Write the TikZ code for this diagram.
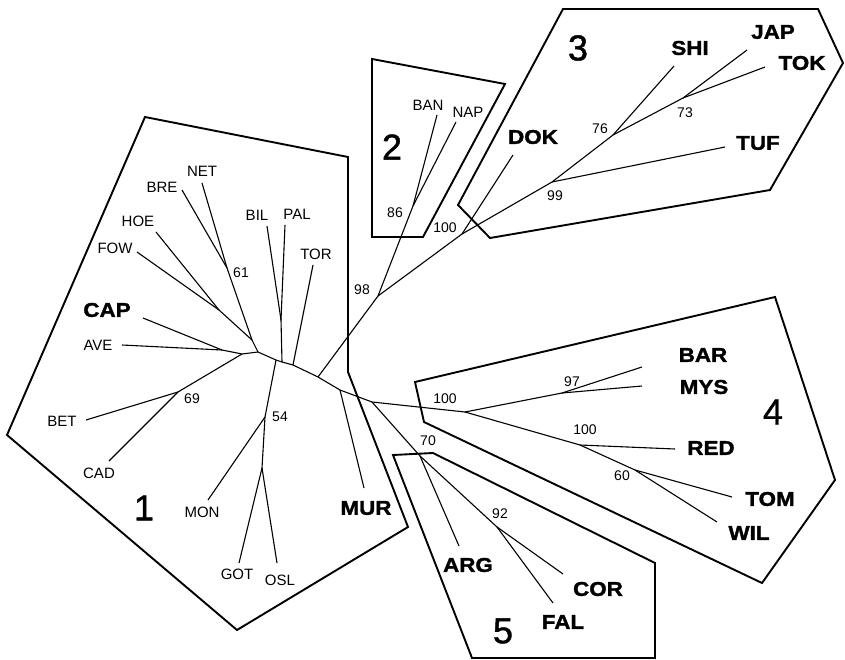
\documentclass[tikz,border=0pt]{standalone}
\usepackage{fontspec}
\setmainfont{Liberation Sans}
\newfontfamily\heavyfont[FakeStretch=1.12,FakeBold=1.6]{Liberation Sans}
\newfontfamily\grpfont[FakeBold=1.2]{Liberation Sans}
\begin{document}
\begin{tikzpicture}[x=1pt,y=-1pt,
  tree/.style={line width=1.1pt,line join=round},
  hull/.style={line width=1.9pt,line join=miter},
  leaf/.style={font=\fontsize{15}{15}\selectfont,inner sep=0pt},
  bleaf/.style={font=\heavyfont\bfseries\fontsize{20}{20}\selectfont,inner sep=0pt},
  boot/.style={font=\fontsize{14}{14}\selectfont,inner sep=0pt},
  grp/.style={font=\grpfont\fontsize{36}{36}\selectfont,inner sep=0pt}]
\useasboundingbox[fill=white] (0,0) rectangle (845,660);

% ---------- hulls ----------
\draw[hull] (145,117) -- (348,157) -- (348,372) -- (408,527) -- (237,630) -- (7,435) -- cycle;
\draw[hull] (372,59) -- (505,84) -- (423,237) -- (372,237) -- cycle;
\draw[hull] (563,9) -- (818,9) -- (843,63) -- (770,190) -- (490,238) -- (458,205) -- cycle;
\draw[hull] (415,382) -- (775,297) -- (835,480) -- (762,583) -- (424,422) -- cycle;
\draw[hull] (393,455) -- (433,453) -- (655,563) -- (655,658) -- (472,658) -- cycle;

% ---------- tree points ----------
\coordinate (R0) at (258,352);
\coordinate (L1) at (242,354);
\coordinate (AC) at (222,350);
\coordinate (tAVE) at (122,345);
\coordinate (tCAP) at (143,318);
\coordinate (n69) at (178,392);
\coordinate (tBET) at (86,420);
\coordinate (tCAD) at (109,461);
\coordinate (U) at (252,340);
\coordinate (FH) at (219,310);
\coordinate (tFOW) at (137,252);
\coordinate (tHOE) at (156,232);
\coordinate (n61) at (227,268);
\coordinate (tBRE) at (182,190);
\coordinate (tNET) at (202,183);
\coordinate (B1a) at (276,360);
\coordinate (n54) at (265,417);
\coordinate (tMON) at (208,500);
\coordinate (GO) at (262,468);
\coordinate (tGOT) at (239,563);
\coordinate (tOSL) at (277,563);
\coordinate (B1b) at (282,362);
\coordinate (BP) at (281,320);
\coordinate (tBIL) at (267,226);
\coordinate (tPAL) at (285,225);
\coordinate (B2) at (293,365);
\coordinate (tTOR) at (313,265);
\coordinate (B3) at (318,377);
\coordinate (n98) at (378,296);
\coordinate (n86) at (413,206);
\coordinate (tBAN) at (437,115);
\coordinate (tNAP) at (456,122);
\coordinate (n100a) at (462,234);
\coordinate (tDOK) at (513,155);
\coordinate (n99) at (552,182);
\coordinate (tTUF) at (725,147);
\coordinate (n76) at (613,135);
\coordinate (tSHI) at (674,66);
\coordinate (n73) at (683,98);
\coordinate (tJAP) at (747,50);
\coordinate (tTOK) at (765,67);
\coordinate (B4) at (340,390);
\coordinate (tMUR) at (364,488);
\coordinate (B5) at (372,402);
\coordinate (n70) at (420,456);
\coordinate (tARG) at (459,546);
\coordinate (n92) at (497,527);
\coordinate (tCOR) at (563,574);
\coordinate (tFAL) at (553,603);
\coordinate (n100c) at (465,412);
\coordinate (n97) at (562,393);
\coordinate (tBAR) at (642,367);
\coordinate (tMYS) at (642,386);
\coordinate (n100b) at (580,445);
\coordinate (tRED) at (675,449);
\coordinate (n60) at (635,470);
\coordinate (tTOM) at (732,497);
\coordinate (tWIL) at (717,522);

% ---------- branches ----------
\draw[tree] (R0) -- (L1) -- (AC) -- (tAVE);
\draw[tree] (AC) -- (tCAP);
\draw[tree] (L1) -- (n69) -- (tBET);
\draw[tree] (n69) -- (tCAD);
\draw[tree] (R0) -- (U) -- (FH) -- (tFOW);
\draw[tree] (FH) -- (tHOE);
\draw[tree] (U) -- (n61) -- (tBRE);
\draw[tree] (n61) -- (tNET);
\draw[tree] (R0) -- (B1a) -- (B1b) -- (B2) -- (B3) -- (B4) -- (B5) -- (n100c);
\draw[tree] (B1a) -- (n54) -- (tMON);
\draw[tree] (n54) -- (GO) -- (tGOT);
\draw[tree] (GO) -- (tOSL);
\draw[tree] (B1b) -- (BP) -- (tBIL);
\draw[tree] (BP) -- (tPAL);
\draw[tree] (B2) -- (tTOR);
\draw[tree] (B3) -- (n98) -- (n86) -- (tBAN);
\draw[tree] (n86) -- (tNAP);
\draw[tree] (n98) -- (n100a) -- (tDOK);
\draw[tree] (n100a) -- (n99) -- (tTUF);
\draw[tree] (n99) -- (n76) -- (tSHI);
\draw[tree] (n76) -- (n73) -- (tJAP);
\draw[tree] (n73) -- (tTOK);
\draw[tree] (B4) -- (tMUR);
\draw[tree] (B5) -- (n70) -- (tARG);
\draw[tree] (n70) -- (n92) -- (tCOR);
\draw[tree] (n92) -- (tFAL);
\draw[tree] (n100c) -- (n97) -- (tBAR);
\draw[tree] (n97) -- (tMYS);
\draw[tree] (n100c) -- (n100b) -- (tRED);
\draw[tree] (n100b) -- (n60) -- (tTOM);
\draw[tree] (n60) -- (tWIL);

% ---------- labels ----------
\node[leaf] (lNET) at (202,171) {NET};
\node[leaf] (lBRE) at (162,187) {BRE};
\node[leaf] (lHOE) at (138,221) {HOE};
\node[leaf] (lFOW) at (115,248) {FOW};
\node[bleaf] (lCAP) at (107,310) {CAP};
\node[leaf] (lAVE) at (98,345) {AVE};
\node[leaf] (lBIL) at (257,215) {BIL};
\node[leaf] (lPAL) at (297,214) {PAL};
\node[leaf] (lTOR) at (316,254) {TOR};
\node[leaf] (lBET) at (62,421) {BET};
\node[leaf] (lCAD) at (99,473) {CAD};
\node[leaf] (lMON) at (202,512) {MON};
\node[leaf] (lGOT) at (237,574) {GOT};
\node[leaf] (lOSL) at (280,580) {OSL};
\node[bleaf] (lMUR) at (366,508) {MUR};
\node[leaf] (lBAN) at (428,105) {BAN};
\node[leaf] (lNAP) at (468,112) {NAP};
\node[bleaf] (lDOK) at (533,137) {DOK};
\node[bleaf] (lSHI) at (690,48) {SHI};
\node[bleaf] (lJAP) at (773,32) {JAP};
\node[bleaf] (lTOK) at (802,63) {TOK};
\node[bleaf] (lTUF) at (758,143) {TUF};
\node[bleaf] (lBAR) at (703,355) {BAR};
\node[bleaf] (lMYS) at (704,387) {MYS};
\node[bleaf] (lRED) at (711,448) {RED};
\node[bleaf] (lTOM) at (770,499) {TOM};
\node[bleaf] (lWIL) at (749,533) {WIL};
\node[bleaf] (lARG) at (468,565) {ARG};
\node[bleaf] (lCOR) at (598,589) {COR};
\node[bleaf] (lFAL) at (563,622) {FAL};

\node[boot] (b61) at (241,273) {61};
\node[boot] (b69) at (192,399) {69};
\node[boot] (b54) at (280,417) {54};
\node[boot] (b98) at (362,290) {98};
\node[boot] (b86) at (395,213) {86};
\node[boot] (b100a) at (445,228) {100};
\node[boot] (b76) at (600,129) {76};
\node[boot] (b73) at (685,113) {73};
\node[boot] (b99) at (555,196) {99};
\node[boot] (b100c) at (445,399) {100};
\node[boot] (b97) at (572,382) {97};
\node[boot] (b100b) at (585,430) {100};
\node[boot] (b60) at (622,476) {60};
\node[boot] (b70) at (428,441) {70};
\node[boot] (b92) at (500,514) {92};

\node[grp] (g1) at (144,508) {1};
\node[grp] (g2) at (392,147) {2};
\node[grp] (g3) at (578,48) {3};
\node[grp] (g4) at (773,412) {4};
\node[grp] (g5) at (503,631) {5};
\end{tikzpicture}
\end{document}
